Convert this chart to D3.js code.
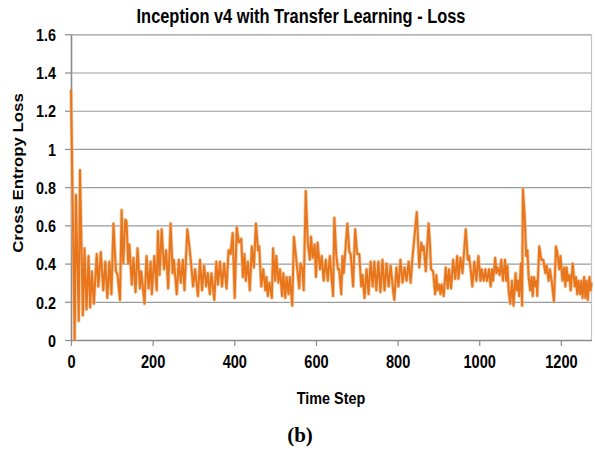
<!DOCTYPE html>
<html>
<head>
<meta charset="utf-8">
<script src="https://cdn.jsdelivr.net/npm/d3@7"></script>
<style>
  body { margin: 0; background: #fff; }
  svg { display: block; }
</style>
</head>
<body>
<script>
// time steps and loss values (peaks and troughs)
const steps = [
  0, 9, 12, 19, 22, 29, 33, 38, 43, 47, 51, 56, 63, 67, 73, 79, 84, 89, 94, 99,
  104, 110, 114, 120, 124, 128, 133, 136, 140, 143, 149, 153, 158, 163, 169, 172, 180, 185, 190, 195,
  198, 204, 210, 213, 217, 222, 228, 233, 238, 244, 249, 252, 259, 264, 269, 274, 278, 285, 290, 295,
  299, 304, 311, 316, 321, 326, 331, 335, 340, 344, 351, 356, 360, 365, 370, 375, 381, 386, 391, 396,
  401, 406, 411, 417, 421, 425, 428, 433, 438, 443, 448, 453, 458, 461, 466, 471, 476, 479, 482, 486,
  492, 495, 500, 503, 508, 512, 517, 520, 525, 528, 533, 536, 542, 546, 551, 559, 562, 567, 570, 575,
  580, 585, 588, 592, 597, 600, 604, 610, 614, 619, 624, 629, 634, 642, 645, 650, 654, 657, 662, 665,
  668, 677, 682, 685, 688, 691, 696, 701, 706, 711, 714, 719, 724, 729, 734, 739, 743, 748, 753, 758,
  763, 768, 773, 778, 783, 789, 792, 797, 802, 807, 812, 817, 822, 827, 832, 836, 847, 853, 858, 861,
  864, 869, 876, 879, 882, 887, 892, 895, 898, 902, 905, 908, 913, 918, 923, 926, 931, 936, 941, 946,
  949, 954, 959, 967, 972, 975, 980, 983, 988, 993, 998, 1003, 1006, 1011, 1015, 1019, 1024, 1028, 1031, 1034,
  1039, 1042, 1045, 1050, 1054, 1058, 1063, 1066, 1069, 1072, 1076, 1080, 1084, 1089, 1092, 1095, 1098, 1102, 1105, 1107,
  1111, 1115, 1118, 1121, 1125, 1128, 1131, 1134, 1138, 1141, 1142, 1147, 1152, 1157, 1162, 1165, 1170, 1173, 1178, 1183,
  1188, 1191, 1196, 1199, 1204, 1208, 1211, 1214, 1217, 1221, 1224, 1229, 1234, 1237, 1240, 1243, 1247, 1250, 1253, 1257,
  1260, 1263, 1266, 1270, 1273, 1275
];
const loss = [
  1.31, 0.00, 0.76, 0.10, 0.89, 0.13, 0.48, 0.16, 0.44, 0.17, 0.36, 0.19, 0.45, 0.28, 0.46, 0.26, 0.41, 0.22, 0.41, 0.24,
  0.61, 0.36, 0.34, 0.21, 0.68, 0.40, 0.63, 0.62, 0.40, 0.50, 0.29, 0.43, 0.25, 0.48, 0.27, 0.36, 0.19, 0.44, 0.27, 0.41,
  0.24, 0.44, 0.26, 0.57, 0.34, 0.58, 0.37, 0.47, 0.27, 0.61, 0.35, 0.42, 0.24, 0.42, 0.30, 0.42, 0.26, 0.58, 0.49, 0.38,
  0.28, 0.37, 0.23, 0.42, 0.26, 0.39, 0.28, 0.35, 0.24, 0.35, 0.21, 0.41, 0.29, 0.41, 0.28, 0.40, 0.27, 0.47, 0.45, 0.56,
  0.22, 0.59, 0.51, 0.53, 0.33, 0.45, 0.31, 0.41, 0.26, 0.49, 0.38, 0.61, 0.47, 0.49, 0.28, 0.37, 0.26, 0.33, 0.23, 0.30,
  0.22, 0.48, 0.31, 0.44, 0.30, 0.37, 0.23, 0.35, 0.22, 0.33, 0.24, 0.33, 0.18, 0.54, 0.44, 0.27, 0.40, 0.37, 0.26, 0.78,
  0.51, 0.42, 0.54, 0.43, 0.50, 0.33, 0.51, 0.37, 0.44, 0.31, 0.42, 0.31, 0.44, 0.23, 0.64, 0.44, 0.37, 0.37, 0.24, 0.44,
  0.35, 0.61, 0.46, 0.45, 0.37, 0.28, 0.58, 0.45, 0.45, 0.28, 0.34, 0.22, 0.37, 0.24, 0.41, 0.28, 0.41, 0.26, 0.41, 0.25,
  0.42, 0.26, 0.40, 0.28, 0.39, 0.26, 0.21, 0.38, 0.28, 0.42, 0.30, 0.38, 0.31, 0.41, 0.30, 0.42, 0.67, 0.38, 0.51, 0.47,
  0.49, 0.36, 0.61, 0.51, 0.37, 0.36, 0.24, 0.34, 0.26, 0.29, 0.24, 0.29, 0.23, 0.38, 0.27, 0.37, 0.27, 0.42, 0.32, 0.44,
  0.32, 0.43, 0.35, 0.58, 0.42, 0.44, 0.35, 0.28, 0.41, 0.31, 0.44, 0.31, 0.37, 0.31, 0.37, 0.31, 0.37, 0.28, 0.37, 0.31,
  0.43, 0.35, 0.38, 0.34, 0.42, 0.31, 0.42, 0.31, 0.39, 0.26, 0.19, 0.31, 0.18, 0.35, 0.26, 0.31, 0.23, 0.40, 0.18, 0.79,
  0.66, 0.44, 0.47, 0.33, 0.26, 0.33, 0.23, 0.33, 0.28, 0.31, 0.23, 0.49, 0.42, 0.42, 0.35, 0.39, 0.31, 0.37, 0.30, 0.20,
  0.49, 0.46, 0.37, 0.44, 0.31, 0.38, 0.28, 0.38, 0.31, 0.34, 0.26, 0.40, 0.28, 0.33, 0.24, 0.31, 0.24, 0.31, 0.22, 0.33,
  0.22, 0.31, 0.21, 0.33, 0.26, 0.30
];
const xTicks = [0, 200, 400, 600, 800, 1000, 1200];
const xTickLabels = ["0", "200", "400", "600", "800", "1000", "1200"];
const yTicks = [0, 0.2, 0.4, 0.6, 0.8, 1, 1.2, 1.4, 1.6];
const yTickLabels = ["0", "0.2", "0.4", "0.6", "0.8", "1", "1.2", "1.4", "1.6"];

const width = 595, height = 451;
const plotLeft = 71, plotRight = 591.5, plotTop = 34.3, plotBottom = 340;
const stretch = 1.2; // text in the picture is drawn a bit tall
const font = "'Liberation Sans', Arial, sans-serif";

let svg = d3.select("body").append("svg")
  .attr("width", width)
  .attr("height", height);

let x = d3.scaleLinear().domain([0, 1275]).range([plotLeft, plotRight]);
let y = d3.scaleLinear().domain([0, 1.6]).range([plotBottom, plotTop]);

// horizontal gridlines
svg.append("g")
  .attr("transform", `translate(${plotLeft},0)`)
  .call(d3.axisLeft(y).tickValues(yTicks.slice(1)).tickSize(-(plotRight - plotLeft)).tickFormat(""))
  .call(g => g.select(".domain").remove())
  .selectAll("line")
  .attr("stroke", "#9b9b9b")
  .attr("stroke-width", 1.2);

// right border of plot area
svg.append("line")
  .attr("x1", plotRight).attr("x2", plotRight)
  .attr("y1", plotTop).attr("y2", plotBottom)
  .attr("stroke", "#c4c4c4")
  .attr("stroke-width", 1.2);

// y axis
let yAxis = svg.append("g")
  .attr("transform", `translate(${plotLeft},0)`)
  .call(d3.axisLeft(y).tickValues(yTicks).tickFormat((d, i) => yTickLabels[i])
    .tickSizeInner(6).tickSizeOuter(0).tickPadding(9));
yAxis.select(".domain").attr("stroke", "#8a8a8a").attr("stroke-width", 1.6);
yAxis.selectAll(".tick line").attr("stroke", "#8a8a8a").attr("stroke-width", 1.2);
yAxis.selectAll("text")
  .attr("dy", "0.36em")
  .attr("transform", `scale(1,${stretch})`)
  .style("font-family", font).style("font-weight", "bold").style("font-size", "14.4px")
  .attr("fill", "#000");

// x axis
let xAxis = svg.append("g")
  .attr("transform", `translate(0,${plotBottom})`)
  .call(d3.axisBottom(x).tickValues(xTicks).tickFormat((d, i) => xTickLabels[i])
    .tickSizeInner(6).tickSizeOuter(0));
xAxis.select(".domain").attr("stroke", "#8a8a8a").attr("stroke-width", 1.6);
xAxis.selectAll(".tick line").attr("stroke", "#8a8a8a").attr("stroke-width", 1.2);
xAxis.selectAll("text")
  .attr("y", 28.5 / stretch)
  .attr("dy", 0)
  .attr("transform", `scale(1,${stretch})`)
  .style("font-family", font).style("font-weight", "bold").style("font-size", "14.6px")
  .attr("fill", "#000");

// loss line: soft halo underneath, then the line
let points = steps.map((s, i) => [s, loss[i]]);
let line = d3.line()
  .x(d => x(d[0]))
  .y(d => y(d[1]));

svg.append("path")
  .datum(points)
  .attr("d", line)
  .attr("fill", "none")
  .attr("stroke", "#f3b987")
  .attr("stroke-opacity", 0.7)
  .attr("stroke-width", 3.6)
  .attr("stroke-linejoin", "round");

svg.append("path")
  .datum(points)
  .attr("d", line)
  .attr("fill", "none")
  .attr("stroke", "#e8761c")
  .attr("stroke-width", 2)
  .attr("stroke-linejoin", "round");

// title
svg.append("text")
  .attr("transform", `translate(301,22.5) scale(1,${stretch})`)
  .attr("text-anchor", "middle")
  .style("font-family", font).style("font-weight", "bold").style("font-size", "16.4px")
  .text("Inception v4 with Transfer Learning - Loss");

// axis titles
svg.append("text")
  .attr("transform", `translate(331,404) scale(1,${stretch})`)
  .attr("text-anchor", "middle")
  .style("font-family", font).style("font-weight", "bold").style("font-size", "14.4px")
  .text("Time Step");

svg.append("text")
  .attr("transform", `translate(23,173) scale(1,${stretch}) rotate(-90)`)
  .attr("text-anchor", "middle")
  .style("font-family", font).style("font-weight", "bold").style("font-size", "14px")
  .text("Cross Entropy Loss");

// panel caption
svg.append("text")
  .attr("x", 300)
  .attr("y", 442)
  .attr("text-anchor", "middle")
  .style("font-family", "'Liberation Serif', 'Times New Roman', serif")
  .style("font-weight", "bold")
  .style("font-size", "21px")
  .text("(b)");
</script>
</body>
</html>
